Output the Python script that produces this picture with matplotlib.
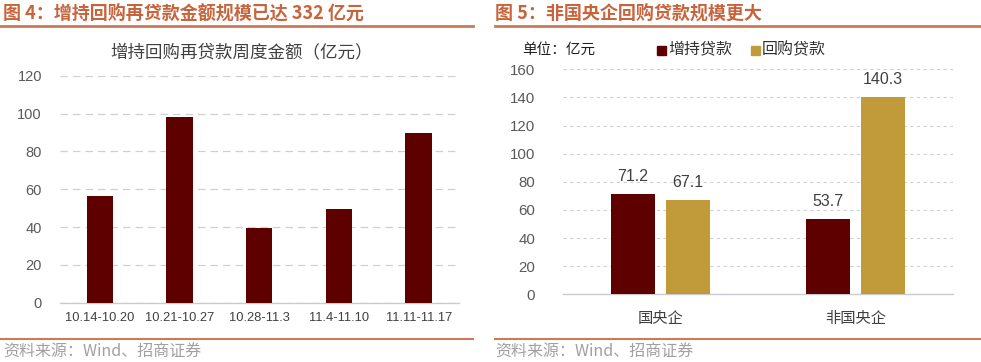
import matplotlib
matplotlib.use("Agg")
import matplotlib.pyplot as plt
from matplotlib.lines import Line2D
from matplotlib.patches import Rectangle
import numpy as np

plt.rcParams['font.family'] = ['Liberation Sans', 'Noto Sans CJK SC', 'DejaVu Sans']
CJK = ['Noto Sans CJK SC', 'DejaVu Sans']

# ---- data ----
weeks = ["10.14-10.20", "10.21-10.27", "10.28-11.3", "11.4-11.10", "11.11-11.17"]
weekly_amount = [56.6, 98.0, 39.6, 49.4, 89.6]

groups = ["国央企", "非国央企"]
zengchi = [71.2, 53.7]
huigou = [67.1, 140.3]
series_names = ["增持贷款", "回购贷款"]

left_title = "图 4：增持回购再贷款金额规模已达 332 亿元"
right_title = "图 5：非国央企回购贷款规模更大"
left_chart_title = "增持回购再贷款周度金额（亿元）"
unit_label = "单位：亿元"
source = "资料来源：Wind、招商证券"

DARK_RED = "#5E0000"
GOLD = "#C19A3A"
TITLE_C = "#C8643C"
LINE_C = "#CC7A58"
GRID_C = "#D0D0D0"
TICK_C = "#595959"

W, H = 981, 362
fig = plt.figure(figsize=(W / 100, H / 100), dpi=100)

def fx(px):
    return px / W

def fy(py):
    return 1 - py / H

# ---- headers / footers ----
fig.text(fx(3), fy(13), left_title, fontsize=13, fontweight='bold', color=TITLE_C,
         family=CJK, va='center', ha='left')
fig.text(fx(495), fy(13), right_title, fontsize=13, fontweight='bold', color=TITLE_C,
         family=CJK, va='center', ha='left')
for x0, x1 in [(0, 473), (495, 981)]:
    fig.add_artist(Line2D([fx(x0), fx(x1)], [fy(26), fy(26)], color=LINE_C, lw=2))
    fig.add_artist(Line2D([fx(x0), fx(x1)], [fy(339), fy(339)], color=LINE_C, lw=1.5))
fig.text(fx(3), fy(352), source, fontsize=11.5, color="#A0A0A0", family=CJK, va='center', ha='left')
fig.text(fx(495), fy(352), source, fontsize=11.5, color="#A0A0A0", family=CJK, va='center', ha='left')

# ---- left chart ----
ax1 = fig.add_axes([fx(60), fy(302.7), fx(458.5 - 60), (302.7 - 75.7) / H])
x = np.arange(len(weeks))
ax1.bar(x, weekly_amount, width=0.33, color=DARK_RED, zorder=3)
ax1.set_xlim(-0.5, len(weeks) - 0.5)
ax1.set_ylim(0, 120)
ax1.set_yticks(np.arange(0, 121, 20))
ax1.set_xticks(x)
ax1.set_xticklabels(weeks, fontsize=9.3, color="#404040")
ax1.tick_params(axis='y', labelsize=10.5, labelcolor=TICK_C, length=0, pad=13)
ax1.tick_params(axis='x', length=0, pad=7)
ax1.yaxis.grid(True, color=GRID_C, linestyle=(0, (6, 4)), lw=0.9, zorder=0)
for s in ['top', 'right', 'left']:
    ax1.spines[s].set_visible(False)
ax1.spines['bottom'].set_color("#C8CCD2")
ax1.spines['bottom'].set_linewidth(1.0)
fig.text(fx(242), fy(52), left_chart_title, fontsize=12.6, color="#404040", family=CJK,
         ha='center', va='center')

# ---- right chart ----
ax2 = fig.add_axes([fx(563), fy(294.3), fx(953 - 563), (294.3 - 69.3) / H])
xg = np.arange(len(groups))
bw = 0.226
off = 0.141
b1 = ax2.bar(xg - off, zengchi, width=bw, color=DARK_RED, zorder=3)
b2 = ax2.bar(xg + off, huigou, width=bw, color=GOLD, zorder=3)
for bars, vals in [(b1, zengchi), (b2, huigou)]:
    for rect, v in zip(bars, vals):
        ax2.annotate(f"{v:.1f}", (rect.get_x() + rect.get_width() / 2, v),
                     xytext=(0, 7), textcoords='offset points', ha='center', va='bottom',
                     fontsize=11.5, color="#404040")
ax2.set_xlim(-0.5, len(groups) - 0.5)
ax2.set_ylim(0, 160)
ax2.set_yticks(np.arange(0, 161, 20))
ax2.set_xticks(xg)
ax2.set_xticklabels(groups, fontsize=11, color="#404040", family=CJK)
ax2.tick_params(axis='y', labelsize=10.8, labelcolor=TICK_C, length=0, pad=20)
ax2.tick_params(axis='x', length=0, pad=11)
ax2.yaxis.grid(True, color=GRID_C, linestyle=(0, (3, 3)), lw=0.8, zorder=0)
for s in ['top', 'right', 'left']:
    ax2.spines[s].set_visible(False)
ax2.spines['bottom'].set_color("#C8CCD2")
ax2.spines['bottom'].set_linewidth(1.0)

fig.text(fx(522), fy(50), unit_label, fontsize=10.5, color="#202020", family=CJK,
         ha='left', va='center')
# legend
for px, name, c in [(657, series_names[0], DARK_RED), (751, series_names[1], GOLD)]:
    fig.add_artist(Rectangle((fx(px), fy(55)), fx(9), 9 / H, color=c))
    fig.text(fx(px + 11), fy(50), name, fontsize=11.5, color="#303030", family=CJK,
             ha='left', va='center')

fig.savefig("out.png", dpi=100)
